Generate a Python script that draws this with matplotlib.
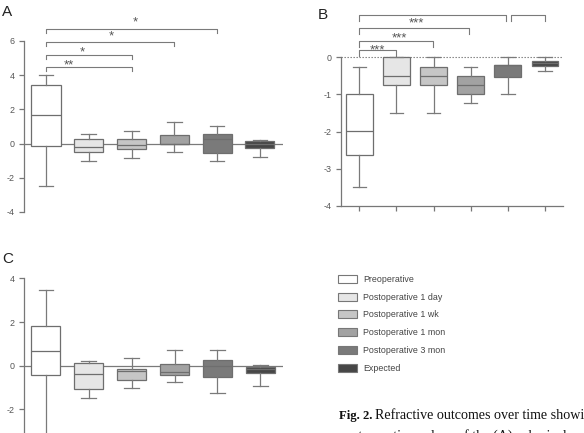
"""Refractive outcomes over time: three box-plot panels with legend and caption."""
import numpy as np
import matplotlib
matplotlib.use("Agg")
import matplotlib.pyplot as plt
from matplotlib.patches import Patch

plt.rcParams.update({
    "font.family": ["Liberation Sans", "DejaVu Sans"],
    "font.size": 6.4,
    "axes.unicode_minus": False,
    "axes.edgecolor": "#777777",
    "xtick.color": "#777777",
    "ytick.color": "#777777",
    "xtick.labelcolor": "#555555",
    "ytick.labelcolor": "#555555",
})

GROUPS = ["Preoperative", "Postoperative 1 day", "Postoperative 1 wk",
          "Postoperative 1 mon", "Postoperative 3 mon", "Expected"]
FILLS = ["#ffffff", "#e6e6e6", "#c6c6c6", "#a2a2a2", "#7a7a7a", "#464646"]
EDGE = "#6e6e6e"

# panel A
a_whislo = [-2.5, -1.0, -0.86, -0.49, -1.0, -0.8]
a_q1 = [-0.12, -0.49, -0.33, 0.0, -0.54, -0.25]
a_med = [1.68, -0.2, -0.08, 0.0, 0.29, -0.02]
a_q3 = [3.4, 0.27, 0.27, 0.53, 0.57, 0.13]
a_whishi = [4.03, 0.55, 0.72, 1.29, 1.03, 0.19]
a_brackets = [(1, 3, 4.46), (1, 3, 5.15), (1, 4, 5.95), (1, 5, 6.71)]
a_stars = ["**", "*", "*", "*"]

# panel B
b_whislo = [-3.5, -1.49, -1.49, -1.24, -1.0, -0.36]
b_q1 = [-2.63, -0.75, -0.75, -1.0, -0.53, -0.23]
b_med = [-1.99, -0.51, -0.51, -0.75, -0.22, -0.16]
b_q3 = [-1.0, 0.0, -0.27, -0.5, -0.22, -0.11]
b_whishi = [-0.25, 0.0, 0.0, -0.25, 0.0, 0.0]
b_brackets = [(1, 2, 0.2), (1, 2.98, 0.45), (1, 3.96, 0.78), (1, 4.96, 1.13), (5.09, 6, 1.13)]
b_stars = ["***", "***", "***", "", ""]

# panel C
c_whislo = [-4.0, -1.5, -1.0, -0.76, -1.26, -0.91]
c_q1 = [-0.41, -1.05, -0.67, -0.43, -0.52, -0.32]
c_med = [0.65, -0.4, -0.26, -0.27, 0.0, -0.15]
c_q3 = [1.81, 0.14, -0.14, 0.09, 0.26, -0.08]
c_whishi = [3.48, 0.23, 0.36, 0.71, 0.73, 0.05]

W, H = 584, 433


def px_axes(fig, left, top, right, bottom):
    return fig.add_axes([left / W, (H - bottom) / H, (right - left) / W, (bottom - top) / H])


def draw_boxes(ax, whislo, q1, med, q3, whishi, width):
    stats = [dict(whislo=lo, q1=a, med=m, q3=b, whishi=hi, fliers=[])
             for lo, a, m, b, hi in zip(whislo, q1, med, q3, whishi)]
    bp = ax.bxp(stats, positions=np.arange(1, 7), widths=width, patch_artist=True,
                showfliers=False, manage_ticks=False,
                boxprops=dict(edgecolor=EDGE, linewidth=0.9),
                medianprops=dict(color=EDGE, linewidth=0.9),
                whiskerprops=dict(color="#7a7a7a", linewidth=0.9),
                capprops=dict(color="#7a7a7a", linewidth=0.9))
    for patch, fc in zip(bp["boxes"], FILLS):
        patch.set_facecolor(fc)
        patch.set_zorder(3)
    for key in ("medians", "whiskers", "caps"):
        for ln in bp[key]:
            ln.set_zorder(4)


def draw_brackets(ax, brackets, stars, drop, label_x, label_y):
    for (x0, x1, y), s, lx, ly in zip(brackets, stars, label_x, label_y):
        ax.plot([x0, x0, x1, x1], [y - drop, y, y, y - drop], color="#7a7a7a",
                lw=0.8, clip_on=False)
        if s:
            ax.text(lx, ly, s, ha="center", va="baseline", fontsize=9.5, color="#555555")


def style_left(ax, lo, hi):
    for sp in ("top", "right", "bottom"):
        ax.spines[sp].set_visible(False)
    ax.spines["left"].set_bounds(lo, hi)
    ax.spines["left"].set_linewidth(0.9)
    ax.tick_params(axis="y", length=3.5, width=0.9, pad=3)
    ax.set_xticks([])
    ax.patch.set_alpha(0)


fig = plt.figure(figsize=(W / 100, H / 100), dpi=100)

# ---- A
axa = px_axes(fig, 24, 13.6, 283, 217.1)
axa.set_xlim(0.486, 6.54)
axa.set_ylim(-4.3, 7.6)
axa.axhline(0, color="#7a7a7a", lw=0.9, zorder=1)
draw_boxes(axa, a_whislo, a_q1, a_med, a_q3, a_whishi, 0.68)
draw_brackets(axa, a_brackets, a_stars, 0.23,
              [1.54, 1.86, 2.52, 3.08], [4.42, 5.17, 6.1, 6.88])
axa.set_yticks([-4, -2, 0, 2, 4, 6])
style_left(axa, -4, 6)

# ---- B
axb = px_axes(fig, 340.7, 7.1, 563, 206)
axb.set_xlim(0.5, 6.485)
axb.set_ylim(-4, 1.35)
axb.axhline(0, color="#777777", lw=0.8, ls=(0, (1.2, 1.5)), zorder=1)
draw_boxes(axb, b_whislo, b_q1, b_med, b_q3, b_whishi, 0.72)
draw_brackets(axb, b_brackets, b_stars, 0.16,
              [1.5, 2.08, 2.55, 0, 0], [0.1, 0.43, 0.83, 0, 0])
for sp in ("top", "right"):
    axb.spines[sp].set_visible(False)
axb.spines["left"].set_bounds(-4, 0)
axb.spines["left"].set_linewidth(0.9)
axb.spines["bottom"].set_linewidth(0.9)
axb.set_yticks([-4, -3, -2, -1, 0])
axb.set_xticks(np.arange(1, 7))
axb.set_xticklabels([])
axb.tick_params(axis="both", length=3.5, width=0.9, pad=3)
axb.patch.set_alpha(0)

# ---- C
axc = px_axes(fig, 24, 271.8, 283, 453)
axc.set_xlim(0.49, 6.53)
axc.set_ylim(-4, 4.3)
axc.axhline(0, color="#7a7a7a", lw=0.9, zorder=1)
draw_boxes(axc, c_whislo, c_q1, c_med, c_q3, c_whishi, 0.68)
axc.set_yticks([-4, -2, 0, 2, 4])
style_left(axc, -4, 4)

# panel letters
for x, y, s in [(2, 12, "A"), (318, 15, "B"), (2, 259, "C")]:
    fig.text(x / W, (H - y) / H, s, fontsize=11, color="#222222", ha="left", va="center")

# legend
handles = [Patch(facecolor=fc, edgecolor="#777777", linewidth=0.8) for fc in FILLS]
fig.legend(handles, GROUPS, loc="upper left", bbox_to_anchor=(338 / W, (H - 275) / H),
           frameon=False, fontsize=6.4, handlelength=2.1, handleheight=1.0,
           handletextpad=0.7, labelspacing=0.98, borderaxespad=0, borderpad=0,
           labelcolor="#444444")

# caption (cut off by the page edge)
cap_kw = dict(family=["Liberation Serif", "DejaVu Serif"], color="#111111",
              va="baseline", ha="left")
bold = fig.text(339 / W, (H - 419) / H, "Fig. 2.", fontweight="bold", fontsize=9.2, **cap_kw)
renderer = fig.canvas.get_renderer()
x_end = bold.get_window_extent(renderer).x1
fig.text((x_end + 3) / W, (H - 419) / H, "Refractive outcomes over time showing",
         fontsize=10.1, **cap_kw)
fig.text(339 / W, (H - 440) / H, "postoperative values of the (A) spherical equivalent",
         fontsize=10.1, **cap_kw)

fig.savefig("out.png", dpi=100)
